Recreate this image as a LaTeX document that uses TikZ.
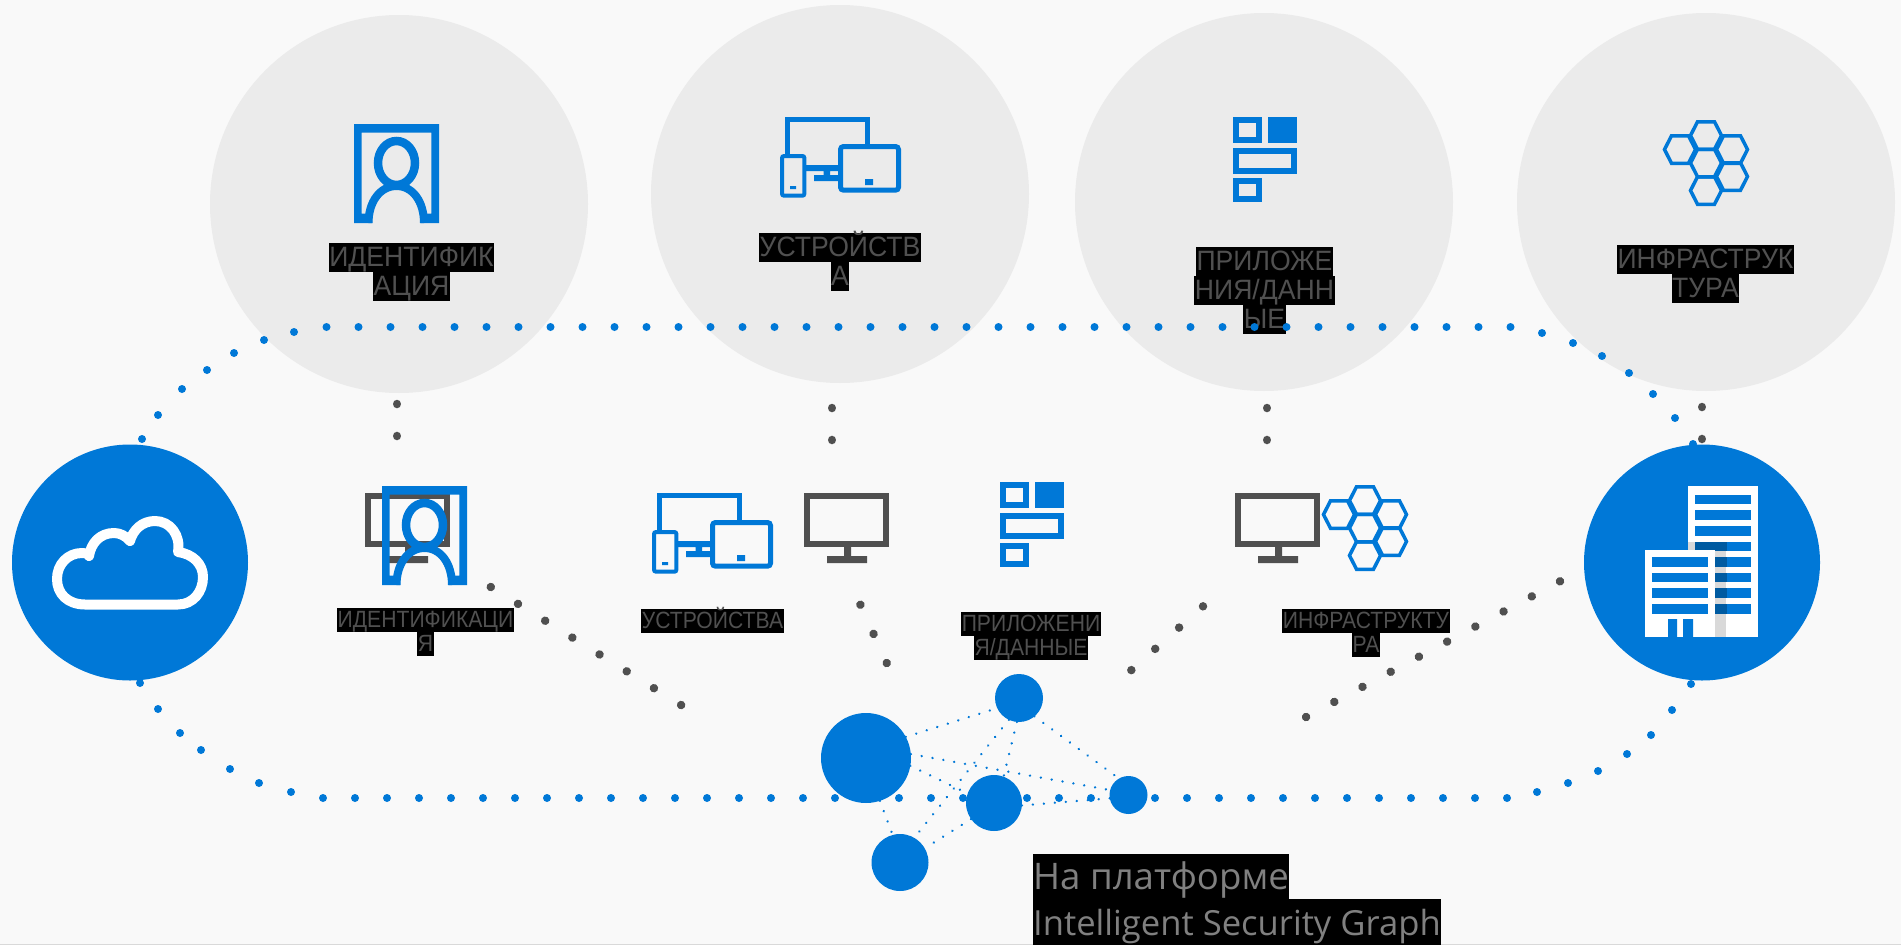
\documentclass[tikz,border=0pt]{standalone}
\usepackage{fontspec}
\setmainfont{Liberation Sans}
\newfontfamily\graphfont{Open Sans}
\newfontfamily\bigfont[FakeStretch=0.95]{Liberation Sans}
\newfontfamily\smallfont[FakeStretch=0.9]{Liberation Sans}
\definecolor{pagegrey}{HTML}{F9F9F9}
\definecolor{discgrey}{HTML}{EBEBEB}
\definecolor{msblue}{HTML}{0078D7}
\definecolor{darkblue}{HTML}{005BA1}
\definecolor{shadegrey}{HTML}{D9D9D9}
\definecolor{textgrey}{HTML}{505050}
\definecolor{graphgrey}{HTML}{808080}
\tikzset{
  disc/.style={circle,fill=#1,inner sep=0pt,outer sep=0pt},
  labelbig/.style={fill=black,text=textgrey,inner xsep=0.5pt,inner ysep=0pt,text height=23.5pt,text depth=5.5pt,font=\bigfont\fontsize{28}{29}\selectfont},
  labelsmall/.style={fill=black,text=textgrey,inner xsep=0.5pt,inner ysep=0pt,text height=19.5pt,text depth=4.5pt,font=\smallfont\fontsize{23.5}{24}\selectfont},
  labelgraph/.style={fill=black,text=graphgrey,anchor=west,inner xsep=0pt,inner ysep=0pt,text height=36pt,text depth=9.5pt,font=\graphfont\fontsize{#1}{40}\selectfont},
  greydots/.style={draw=textgrey,line width=8.5pt,line cap=round,dash pattern=on 0.01pt off 31.98pt},
  thindots/.style={draw=msblue,line width=2.6pt,line cap=round,dash pattern=on 0.01pt off 11pt},
  identityicon/.pic={
    \fill[msblue] (0,0) rectangle (85,8.7) (0,0) rectangle (7.6,99) (77.4,0) rectangle (85,99)
      (0,89.5) rectangle (18,99) (66.5,89.5) rectangle (85,99);
    \draw[msblue,line width=8.5pt] (42.5,39) ellipse (18.5 and 22);
    \draw[msblue,line width=8pt] (14.5,99) .. controls (14.5,78) and (26,62) .. (42.5,62) .. controls (59,62) and (70,78) .. (70,99);
  },
  devicesicon/.pic={
    \draw[msblue,line width=5pt] (7.2,38) -- (7.2,2.7) -- (87,2.7) -- (87,28);
    \draw[msblue,line width=4pt,rounded corners=2pt] (2,39) rectangle (24.4,78.7);
    \draw[msblue,line width=5pt,rounded corners=3pt] (60.5,29.5) rectangle (118.5,73.2);
    \fill[msblue] (10,69) rectangle (16,72) (85,62) rectangle (93,68)
      (26,48) rectangle (58,54) (43.5,54) rectangle (50,59) (34,58) rectangle (58,64);
  },
  appsicon/.pic={
    \draw[msblue,line width=6pt] (3,3) rectangle (26,23) (3,34) rectangle (60.5,53.5) (3,64) rectangle (26,81.7);
    \fill[msblue] (34.5,0) rectangle (63.5,26);
  },
  hexicon/.pic={
    \foreach \hx/\hy in {0/0,-26/14,26/14,0/27.5,26/41,0/55}
      \draw[msblue,line width=3.5pt,line join=miter] ({\hx-15.5},\hy) -- ({\hx-8.5},{\hy-13.75}) -- ({\hx+8.5},{\hy-13.75}) -- ({\hx+15.5},\hy) -- ({\hx+8.5},{\hy+13.75}) -- ({\hx-8.5},{\hy+13.75}) -- cycle;
  },
  monitoricon/.pic={
    \draw[textgrey,line width=6pt] (3,3) rectangle (82,51);
    \fill[textgrey] (40,54) rectangle (47,63) (23,63) rectangle (63,70);
  },
  buildingicon/.pic={
    \fill[white] (43,0) rectangle (113,151);
    \foreach \wa/\wb in {9/18,24/34,40/50,56/65,71/81,87/96,102/112,118/128}
      \fill[msblue] (50,\wa) rectangle (106,\wb);
    \fill[shadegrey] (43,56) rectangle (81,151);
    \foreach \wa/\wb in {56/65,71/81,87/96,102/112,118/128}
      \fill[darkblue] (50,\wa) rectangle (82,\wb);
    \fill[white] (0,64) rectangle (70,151);
    \foreach \wa/\wb in {71/81,87/96,102/112,118/128}
      \fill[msblue] (7,\wa) rectangle (63,\wb);
    \fill[msblue] (23,133) rectangle (32,151) (38,133) rectangle (48,151);
  }
}
\begin{document}
\begin{tikzpicture}[x=1pt,y=-1pt]
\useasboundingbox (0,0) rectangle (1901,945);
\fill[pagegrey] (0,0) rectangle (1901,945);
\fill[shadegrey] (0,943.5) rectangle (1901,945);
\node[disc=discgrey,minimum size=378pt] (Pid) at (399,204) {};
\node[disc=discgrey,minimum size=378pt] (Pdev) at (840,194) {};
\node[disc=discgrey,minimum size=378pt] (Papp) at (1264,202) {};
\node[disc=discgrey,minimum size=378pt] (Pinf) at (1706,202) {};
\pic at (354,124) {identityicon};
\pic at (780,117) {devicesicon};
\pic at (1233,117) {appsicon};
\pic at (1706,135.5) {hexicon};
\node[labelbig] (Tid1) at (411.5,257.5) {ИДЕНТИФИК};
\node[labelbig] (Tid2) at (411.5,286.5) {АЦИЯ};
\node[labelbig] (Tdev1) at (840,247.5) {УСТРОЙСТВ};
\node[labelbig] (Tdev2) at (840,276.5) {А};
\node[labelbig] (Tapp1) at (1264.5,261.5) {ПРИЛОЖЕ};
\node[labelbig] (Tapp2) at (1264.5,290.5) {НИЯ/ДАНН};
\node[labelbig] (Tapp3) at (1264.5,319.5) {ЫЕ};
\node[labelbig] (Tinf1) at (1705.5,259.5) {ИНФРАСТРУК};
\node[labelbig] (Tinf2) at (1705.5,288.5) {ТУРА};
\foreach \rx/\ry in {142/439,158/415,182/389,207/370,234/353,264/340,294/332,1542/333,1573/343,1602/356,1629/373,1653/394,1675/418,1693/444,140/683,158/709,180/733,201/750,230/769,259/783,291/792,1537/792,1568/783,1598/771,1627/754,1651/735,1672/710,1691/684}
  \fill[msblue] (\rx,\ry) circle (4);
\foreach \rx in {326.5,358.5,...,1511}
  \fill[msblue] (\rx,327) circle (4);
\foreach \rx in {323,355,...,1508}
  \fill[msblue] (\rx,798) circle (4);
\coordinate (Gid1) at (397,404);
\coordinate (Gid2) at (397,436.1);
\coordinate (Gdev1) at (832,408);
\coordinate (Gdev2) at (832,440.1);
\coordinate (Gapp1) at (1267,408);
\coordinate (Gapp2) at (1267,440.1);
\coordinate (Ginf1) at (1702,407);
\coordinate (Ginf2) at (1702,439.1);
\coordinate (Dleft1) at (490.8,587);
\coordinate (Dleft2) at (681.7,705.4);
\coordinate (Dmid1) at (860.4,604.7);
\coordinate (Dmid2) at (886.8,663.2);
\coordinate (Dapp1) at (1203,606.3);
\coordinate (Dapp2) at (1131,670.4);
\coordinate (Dinf1) at (1560,581.3);
\coordinate (Dinf2) at (1305.9,717.1);
\draw[greydots] (Gid1) -- (Gid2);
\draw[greydots] (Gdev1) -- (Gdev2);
\draw[greydots] (Gapp1) -- (Gapp2);
\draw[greydots] (Ginf1) -- (Ginf2);
\draw[greydots] (Dleft1) -- (Dleft2);
\draw[greydots] (Dmid1) -- (Dmid2);
\draw[greydots] (Dapp1) -- (Dapp2);
\draw[greydots] (Dinf1) -- (Dinf2);
\node[disc=msblue,minimum size=236pt] (Pcloud) at (130,562.5) {};
\node[disc=msblue,minimum size=236pt] (Pbuilding) at (1702,562.5) {};
\draw[white,line width=10pt,line join=round] (85,604.5) -- (178,604.5) .. controls (193,604.5) and (203,592) .. (203,577) .. controls (203,564) and (193,554) .. (178,552) .. controls (181,535) and (170,521) .. (155,521) .. controls (142,521) and (133,530) .. (130,541) .. controls (126,536) and (120,533) .. (114,533) .. controls (100,533) and (91,543) .. (89,556) .. controls (87,553) and (85,553) .. (82,553) .. controls (68,553) and (57,564) .. (57,579) .. controls (57,594) and (68,604.5) .. (85,604.5) -- cycle;
\pic at (1645,486) {buildingicon};
\pic at (365,493) {monitoricon};
\pic at (382,486) {identityicon};
\pic at (652,493) {devicesicon};
\pic at (804,493) {monitoricon};
\pic at (1000,482) {appsicon};
\pic at (1235,493) {monitoricon};
\pic at (1365,500.5) {hexicon};
\node[labelsmall] (Sid1) at (425.5,620) {ИДЕНТИФИКАЦИ};
\node[labelsmall] (Sid2) at (425.5,644) {Я};
\node[labelsmall] (Sdev1) at (712.5,621) {УСТРОЙСТВА};
\node[labelsmall] (Sapp1) at (1031,624) {ПРИЛОЖЕНИ};
\node[labelsmall] (Sapp2) at (1031,648) {Я/ДАННЫЕ};
\node[labelsmall] (Sinf1) at (1366,621) {ИНФРАСТРУКТУ};
\node[labelsmall] (Sinf2) at (1366,645) {РА};
\node[disc=msblue,minimum size=90pt] (Gbig) at (866,758) {};
\node[disc=msblue,minimum size=48pt] (Gtop) at (1019,698) {};
\node[disc=msblue,minimum size=56pt] (Gmid) at (994,803) {};
\node[disc=msblue,minimum size=38pt] (Gright) at (1128.5,795) {};
\node[disc=msblue,minimum size=57pt] (Gbottom) at (900,862.5) {};
\draw[thindots] (Gbig.28) -- (Gtop.205);
\draw[thindots] (Gbig.-10) -- (Gmid.160);
\draw[thindots] (Gbig.5) -- (Gright.165);
\draw[thindots] (Gbig.-72) -- (Gbottom.105);
\draw[thindots] (Gtop.-95) -- (Gmid.70);
\draw[thindots] (Gtop.245) -- (Gbottom.60);
\draw[thindots] (Gtop.-50) -- (Gright.120);
\draw[thindots] (Gmid.-5) -- (Gright.190);
\draw[thindots] (Gmid.215) -- (Gbottom.30);
\node[labelgraph=36.6] (Tgraph1) at (1033,876.5) {На платформе};
\node[labelgraph=34.6] (Tgraph2) at (1033,922) {Intelligent Security Graph};
\end{tikzpicture}
\end{document}
